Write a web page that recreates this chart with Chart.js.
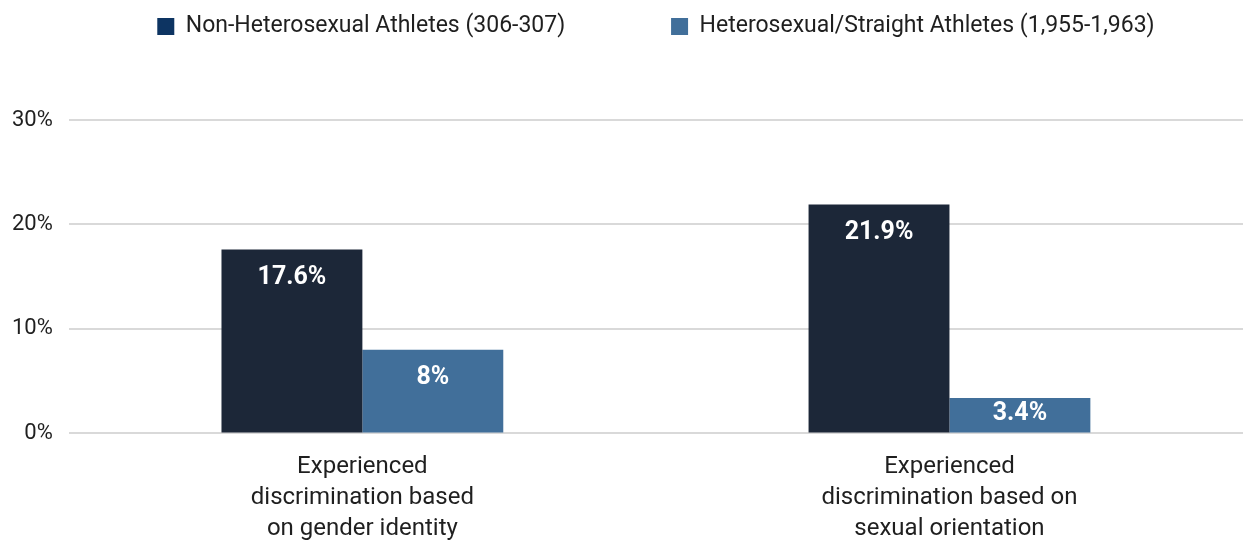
<!DOCTYPE html>
<html>
<head>
<meta charset="utf-8">
<script src="https://cdn.jsdelivr.net/npm/chart.js@4.4.1/dist/chart.umd.min.js"></script>
<style>
  html, body { margin: 0; padding: 0; background: #ffffff; }
  #wrap { width: 1243px; height: 544px; }
</style>
</head>
<body>
<div id="wrap"><canvas id="barChart" width="1243" height="544"></canvas></div>
<script>
// datos del grafico
const categorias = [
    ['Experienced', 'discrimination based', 'on gender identity'],
    ['Experienced', 'discrimination based on', 'sexual orientation']
];
const serieNoHetero = [17.6, 21.9];
const serieHetero = [8, 3.4];
const etiquetasNoHetero = ['17.6%', '21.9%'];
const etiquetasHetero = ['8%', '3.4%'];
const nombresSeries = ['Non-Heterosexual Athletes (306-307)', 'Heterosexual/Straight Athletes (1,955-1,963)'];
const ticksY = [0, 10, 20, 30];

const FUENTE = 'Roboto, "Noto Sans", sans-serif';
const COLOR_TEXTO = '#1f1f1f';

// margen extra bajo la leyenda
const margenLeyenda = {
    id: 'margenLeyenda',
    beforeInit(chart) {
        const fitOriginal = chart.legend.fit;
        chart.legend.fit = function () {
            fitOriginal.bind(chart.legend)();
            this.height += 72;
        };
    }
};

// etiquetas blancas dentro de las barras
const etiquetasBarras = {
    id: 'etiquetasBarras',
    afterDatasetsDraw(chart) {
        const ctx = chart.ctx;
        const textos = [etiquetasNoHetero, etiquetasHetero];
        ctx.save();
        ctx.fillStyle = '#ffffff';
        ctx.font = 'bold 25px ' + FUENTE;
        ctx.textAlign = 'center';
        ctx.textBaseline = 'middle';
        chart.data.datasets.forEach((ds, i) => {
            chart.getDatasetMeta(i).data.forEach((bar, j) => {
                const y = Math.min(bar.y + 28, bar.base - 19);
                ctx.fillText(textos[i][j], bar.x, y);
            });
        });
        ctx.restore();
    }
};

const ctx = document.getElementById('barChart').getContext('2d');
new Chart(ctx, {
    type: 'bar',
    data: {
        labels: categorias,
        datasets: [{
            label: nombresSeries[0],
            data: serieNoHetero,
            backgroundColor: '#1c2738',
            borderWidth: 0,
            categoryPercentage: 0.48,
            barPercentage: 1.0
        }, {
            label: nombresSeries[1],
            data: serieHetero,
            backgroundColor: '#416f9a',
            borderWidth: 0,
            categoryPercentage: 0.48,
            barPercentage: 1.0
        }]
    },
    options: {
        responsive: false,
        animation: false,
        layout: { padding: { top: 3, left: -4, right: 0, bottom: -19 } },
        plugins: {
            legend: {
                position: 'top',
                fullSize: false,
                labels: {
                    boxWidth: 17,
                    boxHeight: 17,
                    padding: 12,
                    color: COLOR_TEXTO,
                    font: { family: FUENTE, size: 23 },
                    generateLabels(chart) {
                        const colores = ['#0d3462', '#416f9a'];
                        return chart.data.datasets.map((ds, i) => ({
                            // espacios para separar los dos elementos
                            text: i === 0 ? ds.label + '\u2003\u2003\u2003\u2003' : ds.label,
                            fillStyle: colores[i],
                            strokeStyle: colores[i],
                            lineWidth: 0,
                            fontColor: COLOR_TEXTO,
                            hidden: false,
                            datasetIndex: i
                        }));
                    }
                }
            },
            tooltip: { enabled: false }
        },
        scales: {
            x: {
                grid: { display: false, drawTicks: false },
                border: { display: false },
                ticks: {
                    color: COLOR_TEXTO,
                    font: { family: FUENTE, size: 24, lineHeight: 1.3 },
                    padding: 18,
                    maxRotation: 0
                }
            },
            y: {
                min: 0,
                max: 30,
                afterBuildTicks(axis) {
                    axis.ticks = ticksY.map(v => ({ value: v }));
                },
                grid: { color: '#d9d9d9', lineWidth: 2, drawTicks: false },
                border: { display: false },
                ticks: {
                    color: COLOR_TEXTO,
                    font: { family: FUENTE, size: 22 },
                    padding: 16,
                    callback: v => v + '%'
                }
            }
        }
    },
    plugins: [margenLeyenda, etiquetasBarras]
});
</script>
</body>
</html>
